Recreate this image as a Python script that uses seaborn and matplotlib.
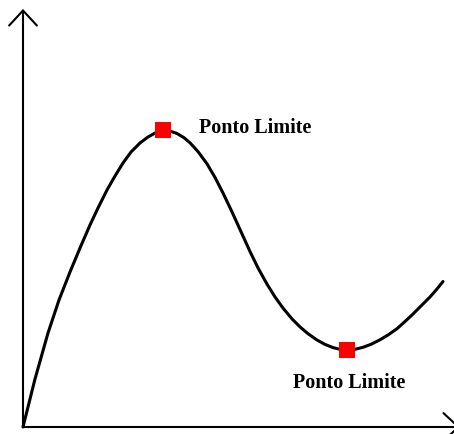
import matplotlib
matplotlib.use("Agg")
import matplotlib.pyplot as plt
import seaborn as sns
import pandas as pd

# curve (x to the right, y upwards, origin at the axes corner)
curva_x = [0, 12, 25, 36, 47, 57, 67, 75, 84, 92, 100, 108, 117, 125, 134, 140,
           147, 154, 161, 167, 175, 184, 192, 200, 209, 217, 227, 235, 244, 252,
           260, 269, 277, 285, 294, 302, 310, 317, 324,
           332, 340, 348, 357, 365, 374, 382, 390, 399, 407, 414, 420]
curva_y = [0, 48, 94, 127, 155, 179, 202, 219, 237, 251, 264, 275, 284, 290, 295, 297,
           296, 293.5, 289.3, 284.2, 275.4, 263.2, 249.6, 234, 215.1, 197.5, 175.5, 159.1,
           142.9, 130.1, 118.9, 108.1, 100.1, 93.3, 87, 82.6, 79.4, 77.65, 77,
           77.7, 79.7, 82.7, 87.2, 92, 98.3, 105.5, 113, 122, 130, 138, 145.5]

# pontos limite (maximo e minimo locais)
limite_x = [140, 324]
limite_y = [297, 77]
rotulos = ["Ponto Limite", "Ponto Limite"]
rotulo_x = [176, 270]
rotulo_y = [299, 44]

sns.set_style("white")
plt.rcParams['font.family'] = ['Liberation Serif', 'DejaVu Serif']

fig = plt.figure(figsize=(4.54, 4.34), dpi=100)
ax = fig.add_axes([0, 0, 1, 1])
ax.set_xlim(-23, 431)
ax.set_ylim(-7, 427)
ax.axis('off')

# eixos com setas abertas
seta = dict(arrowstyle='->,head_length=1.08,head_width=1.0', color='black',
            lw=1.5, shrinkA=0, shrinkB=0)
ax.annotate('', xy=(0, 418), xytext=(0, 0), arrowprops=seta, annotation_clip=False)
ax.annotate('', xy=(437, 0), xytext=(0, 0), arrowprops=seta, annotation_clip=False)

df = pd.DataFrame({'x': curva_x, 'y': curva_y})
sns.lineplot(data=df, x='x', y='y', color='black', linewidth=2.2, ax=ax,
             estimator=None, sort=False, solid_joinstyle='round')

pts = pd.DataFrame({'x': limite_x, 'y': limite_y})
sns.scatterplot(data=pts, x='x', y='y', marker='s', s=118, color='#ff0000',
                edgecolor='none', linewidth=0, ax=ax, zorder=5)

for t, tx, ty in zip(rotulos, rotulo_x, rotulo_y):
    ax.text(tx, ty, t, fontsize=14.5, fontweight='bold', color='black',
            ha='left', va='center')

fig.savefig('out.png', dpi=100)
